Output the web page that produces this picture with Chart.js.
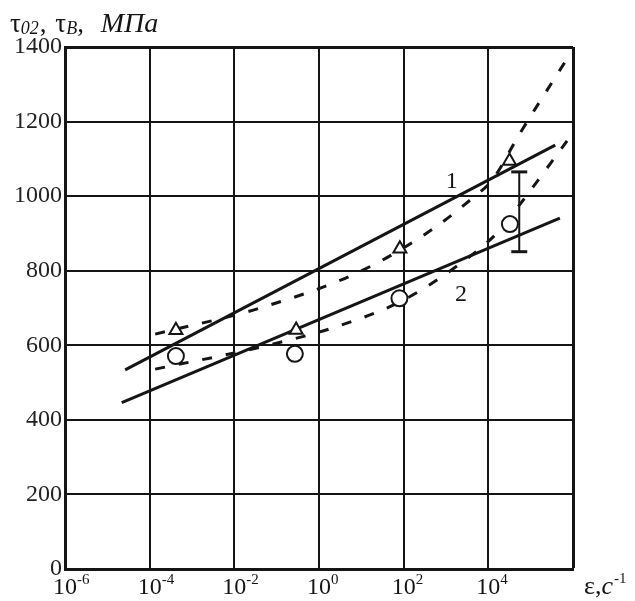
<!DOCTYPE html>
<html>
<head>
<meta charset="utf-8">
<script src="https://cdn.jsdelivr.net/npm/chart.js@4"></script>
<style>
  html, body { margin: 0; padding: 0; background: #fff; }
  #wrap { width: 635px; height: 601px; }
</style>
</head>
<body>
<div id="wrap"><canvas id="chart" width="635" height="601"></canvas></div>
<script>
// Strain rate is kept as log10 exponents (1/s), stresses in MPa
const xTickExps = [-6, -4, -2, 0, 2, 4, 6];
const yTicks = [0, 200, 400, 600, 800, 1000, 1200, 1400];

// fitted straight lines 1 and 2
const line1Exp = [-4.58, 5.58];
const line1Val = [534, 1137];
const line2Exp = [-4.66, 5.69];
const line2Val = [446, 941];

// dashed curves through the measured points
const dash1Exp = [-3.87, -1.39, 0.99, 2.65, 3.66, 4.09, 4.75, 5.84];
const dash1Val = [630, 700, 799, 909, 998, 1043, 1169, 1365];
const dash2Exp = [-3.87, -1.39, 0.47, 1.99, 3.36, 4.25, 4.70, 5.86];
const dash2Val = [536, 595, 652, 721, 821, 906, 971, 1148];

// measured points: triangles (tau_02) and circles (tau_B)
const triExp = [-3.38, -0.54, 1.91, 4.50];
const triVal = [640, 641, 859, 1094];
const circExp = [-3.38, -0.57, 1.90, 4.51];
const circVal = [571, 577, 726, 925];

// scatter band at the highest rate
const errExp = 4.73;
const errLow = 851;
const errHigh = 1065;

// curve numbers
const curveNames = ['1', '2'];
const curveNameExp = [3.135, 3.355];
const curveNameVal = [1039, 736];

const serif = '"Liberation Serif", "Times New Roman", serif';
const ink = '#151515';

const pts = (exps, vals) => exps.map((e, i) => ({ x: Math.pow(10, e), y: vals[i] }));

// axis captions, superscript powers and curve numbers
const textPlugin = {
    id: 'axisText',
    afterDraw(chart) {
        const { ctx, scales: { x, y } } = chart;
        ctx.save();
        ctx.fillStyle = ink;
        ctx.textBaseline = 'alphabetic';

        // x tick labels: 10 with a raised exponent
        xTickExps.slice(0, -1).forEach(e => {
            const px = x.getPixelForValue(Math.pow(10, e));
            ctx.font = '24px ' + serif;
            ctx.textAlign = 'center';
            ctx.fillText('10', px, 594);
            ctx.font = '15px ' + serif;
            ctx.textAlign = 'left';
            ctx.fillText(e < 0 ? '-' + Math.abs(e) : String(e), px + 12, 584);
        });

        // x axis caption
        let cx = 584;
        ctx.textAlign = 'left';
        ctx.font = '26px ' + serif;
        ctx.fillText('ε,', cx, 594);
        cx += ctx.measureText('ε,').width;
        ctx.font = 'italic 26px ' + serif;
        ctx.fillText('c', cx, 594);
        cx += ctx.measureText('c').width + 1;
        ctx.font = '15px ' + serif;
        ctx.fillText('-1', cx, 583);

        // y axis caption
        const parts = [
            ['τ', '27px', 32, 0],
            ['02', 'italic 18px', 34, 1],
            [', ', '27px', 32, 2],
            ['τ', '27px', 32, 0],
            ['B', 'italic 18px', 34, 0],
            [', ', '27px', 32, 10],
            ['МПа', 'italic 28px', 32, 0]
        ];
        let tx = 10;
        parts.forEach(([s, f, base, gap]) => {
            ctx.font = f + ' ' + serif;
            ctx.fillText(s, tx, base);
            tx += ctx.measureText(s).width + gap;
        });

        // curve numbers
        ctx.font = '24px ' + serif;
        ctx.textAlign = 'center';
        ctx.textBaseline = 'middle';
        curveNames.forEach((n, i) => {
            ctx.fillText(n, x.getPixelForValue(Math.pow(10, curveNameExp[i])), y.getPixelForValue(curveNameVal[i]));
        });
        ctx.restore();
    }
};

const solid = { borderColor: ink, borderWidth: 3, pointRadius: 0, showLine: true, fill: false, order: 3 };
const dashed = { ...solid, borderDash: [10, 14], cubicInterpolationMode: 'monotone', order: 2 };

new Chart(document.getElementById('chart'), {
    type: 'scatter',
    data: {
        datasets: [
            { ...solid, data: pts(line1Exp, line1Val) },
            { ...solid, data: pts(line2Exp, line2Val) },
            { ...dashed, data: pts(dash1Exp, dash1Val) },
            { ...dashed, data: pts(dash2Exp, dash2Val) },
            {
                data: [{ x: Math.pow(10, errExp), y: errLow }, { x: Math.pow(10, errExp), y: errHigh }],
                showLine: true, borderColor: ink, borderWidth: 2,
                pointStyle: 'line', pointRadius: 8, pointBorderWidth: 3, pointBorderColor: ink, order: 1
            },
            {
                data: pts(triExp, triVal), pointStyle: 'triangle', pointRadius: 7.5,
                pointBackgroundColor: '#fff', pointBorderColor: ink, pointBorderWidth: 2, order: 0
            },
            {
                data: pts(circExp, circVal), pointStyle: 'circle', pointRadius: 8,
                pointBackgroundColor: '#fff', pointBorderColor: ink, pointBorderWidth: 2, order: 0
            }
        ]
    },
    options: {
        responsive: false,
        animation: false,
        layout: { padding: { left: 0, right: 62, top: 47, bottom: 0 } },
        plugins: { legend: { display: false }, tooltip: { enabled: false } },
        scales: {
            x: {
                type: 'logarithmic',
                min: 1e-6,
                max: 1e6,
                afterBuildTicks: scale => { scale.ticks = xTickExps.map(e => ({ value: Math.pow(10, e) })); },
                afterFit: scale => { scale.height = 32; },
                ticks: { display: false },
                grid: {
                    color: ink,
                    drawTicks: false,
                    lineWidth: c => (c.tick && c.tick.value >= 1e6 * 0.999 ? 3 : 2)
                },
                border: { display: true, color: ink, width: 3 }
            },
            y: {
                min: 0,
                max: 1400,
                afterBuildTicks: scale => { scale.ticks = yTicks.map(v => ({ value: v })); },
                afterFit: scale => { scale.width = 65; },
                ticks: {
                    color: '#222',
                    padding: 3,
                    font: { family: serif, size: 24 },
                    callback: v => String(v)
                },
                grid: {
                    color: ink,
                    drawTicks: false,
                    lineWidth: c => (c.tick && c.tick.value === 1400 ? 3 : 2)
                },
                border: { display: true, color: ink, width: 3 }
            }
        }
    },
    plugins: [textPlugin]
});
</script>
</body>
</html>
